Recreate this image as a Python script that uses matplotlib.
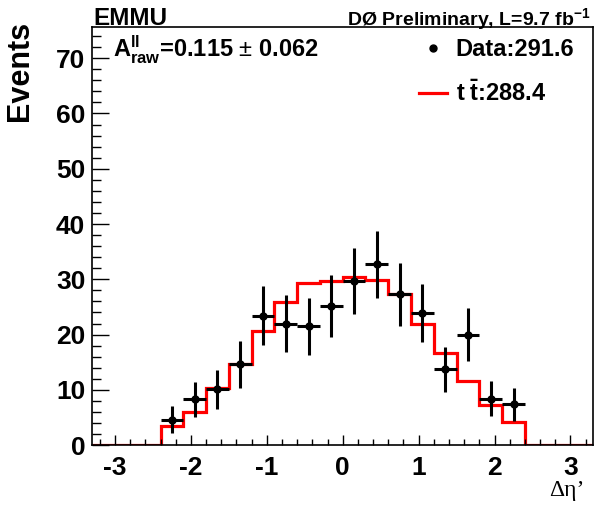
import numpy as np
import matplotlib.pyplot as plt
from matplotlib.lines import Line2D

plt.rcParams['font.family'] = ['Liberation Sans', 'DejaVu Sans']
plt.rcParams['mathtext.fontset'] = 'custom'
plt.rcParams['mathtext.rm'] = 'Liberation Sans'
plt.rcParams['mathtext.bf'] = 'Liberation Sans:bold'
plt.rcParams['mathtext.it'] = 'Liberation Sans:italic'
plt.rcParams['axes.unicode_minus'] = False

# bin edges of the histogram (width 0.3)
edges = np.round(np.arange(-3.3, 3.31, 0.3), 2)
centers = (edges[:-1] + edges[1:]) / 2

# ttbar expectation per bin
ttbar = [0, 0, 0, 3.4, 6.0, 10.4, 14.6, 20.6, 25.9, 29.4, 29.7,
         30.4, 29.8, 27.4, 22.0, 16.6, 11.6, 7.2, 4.1, 0, 0, 0]

# data in the non-empty bins
data_x = centers[3:19]
data_y = [4.6, 8.3, 10.1, 14.6, 23.4, 22.0, 21.5, 25.1,
          29.7, 32.7, 27.3, 23.9, 13.7, 20.0, 8.4, 7.4]
data_err = [2.4, 3.2, 3.5, 4.2, 5.3, 5.2, 5.2, 5.6,
            5.9, 6.1, 5.7, 5.3, 4.1, 4.8, 3.2, 3.0]

fig = plt.figure(figsize=(5.95, 5.14), dpi=100)
ax = fig.add_axes([0.155, 0.134, 0.842, 0.813])

ax.stairs(ttbar, edges, color='#ff0000', lw=2.3)
ax.errorbar(data_x, data_y, yerr=data_err, xerr=0.15, fmt='o', color='black',
            ms=5, elinewidth=2.2, capsize=0)

ax.set_xlim(-3.3, 3.3)
ax.set_ylim(0, 75.6)
ax.set_xticks([-3, -2, -1, 0, 1, 2, 3])
ax.set_xticks(np.arange(-3.2, 3.3, 0.2), minor=True)
ax.set_yticks(np.arange(0, 71, 10))
ax.set_yticks(np.arange(0, 76, 2), minor=True)
ax.tick_params(which='both', direction='in', top=False, right=False, width=1.0)
ax.tick_params(axis='y', which='major', length=12, pad=5)
ax.tick_params(axis='y', which='minor', length=6.5)
ax.tick_params(axis='x', which='major', length=7.5, pad=8)
ax.tick_params(axis='x', which='minor', length=4)
ax.tick_params(axis='both', labelsize=19)
for lab in ax.get_xticklabels() + ax.get_yticklabels():
    lab.set_fontweight('bold')
for s in ax.spines.values():
    s.set_linewidth(1.2)

fig.text(0.034, 0.862, 'Events', fontsize=22, fontweight='bold', rotation=90,
         ha='center', va='center')
fig.text(0.983, 0.035, 'Δη’', fontsize=17, ha='right', va='baseline',
         family=['Liberation Serif', 'DejaVu Serif'])

fig.text(0.157, 0.951, 'EMMU', fontsize=17.5, fontweight='bold', va='baseline')
fig.text(0.993, 0.951, r'DØ Preliminary, L=9.7 fb$^{\mathbf{-1}}$', fontsize=14,
         fontweight='bold', ha='right', va='baseline')
ax.text(0.042, 0.927, r'$\mathbf{A^{ll}_{raw}}$=0.115 $\pm$ 0.062', fontsize=17,
        fontweight='bold', transform=ax.transAxes, va='baseline')

handles = [Line2D([], [], ls='none', marker='o', ms=5, color='black'),
           Line2D([], [], color='#ff0000', lw=2.3)]
labels = ['Data:291.6', r'$\mathbf{t\;\bar{t}}$:288.4']
leg = ax.legend(handles, labels, loc='upper right', bbox_to_anchor=(0.962, 0.974),
                frameon=False, fontsize=17, handlelength=1.2, borderpad=0,
                borderaxespad=0, labelspacing=0.85, handletextpad=0.35)
for t in leg.get_texts():
    t.set_fontweight('bold')

fig.savefig('out.png', dpi=100)
